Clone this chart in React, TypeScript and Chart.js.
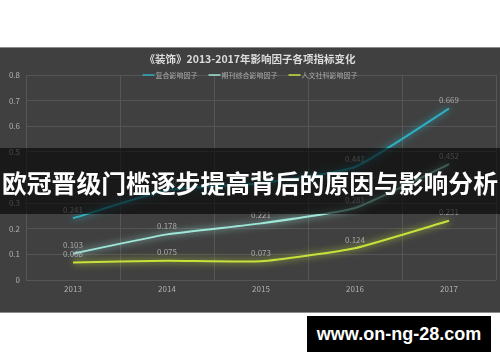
import React, { useEffect, useRef } from "react";
import { Chart, registerables } from "chart.js";

Chart.register(...registerables);

const chartTitle = "《装饰》2013-2017年影响因子各项指标变化";
const bannerText = "欧冠晋级门槛逐步提高背后的原因与影响分析";
const watermarkText = "www.on-ng-28.com";

const years = ["2013", "2014", "2015", "2016", "2017"];
const compositeIF = [0.241, 0.35, 0.378, 0.441, 0.669];
const journalIF = [0.103, 0.178, 0.221, 0.281, 0.452];
const humanitiesIF = [0.068, 0.075, 0.073, 0.124, 0.231];
const seriesNames = ["复合影响因子", "期刊综合影响因子", "人文社科影响因子"];
const seriesColors = ["#2eaec0", "#9fe6da", "#c8e03c"];
const yMin = 0;
const yMax = 0.8;
const yStep = 0.1;

const FONT = "'Noto Sans CJK SC', 'DejaVu Sans', sans-serif";

const glowPlugin = {
  id: "glow",
  beforeDatasetDraw(chart: any, args: any) {
    const ctx = chart.ctx;
    ctx.save();
    const ds = chart.data.datasets[args.index];
    ctx.shadowColor = ds.borderColor;
    ctx.shadowBlur = 7;
  },
  afterDatasetDraw(chart: any) {
    chart.ctx.restore();
  },
};

const labelsPlugin = {
  id: "valueLabels",
  afterDatasetsDraw(chart: any) {
    const ctx = chart.ctx;
    ctx.save();
    ctx.font = `8px ${FONT}`;
    ctx.fillStyle = "#a9a9a9";
    ctx.textAlign = "center";
    ctx.textBaseline = "middle";
    chart.data.datasets.forEach((ds: any, i: number) => {
      const meta = chart.getDatasetMeta(i);
      meta.data.forEach((pt: any, j: number) => {
        const v = ds.data[j] as number;
        ctx.fillText(v.toFixed(3), pt.x, pt.y - 8.5);
      });
    });
    ctx.restore();
  },
};

const headerPlugin = {
  id: "header",
  afterDraw(chart: any) {
    const ctx = chart.ctx;
    ctx.save();
    ctx.font = `bold 10.5px ${FONT}`;
    ctx.fillStyle = "#dcdcdc";
    ctx.textAlign = "center";
    ctx.textBaseline = "middle";
    ctx.fillText(chartTitle, chart.width / 2, 12);
    ctx.font = `7px ${FONT}`;
    const marker = 12;
    const gap = 1;
    const itemGap = 11;
    const items = chart.data.datasets.map((d: any) => ({
      label: d.label,
      color: d.borderColor,
      w: marker + gap + ctx.measureText(d.label).width,
    }));
    const total =
      items.reduce((s: number, it: any) => s + it.w, 0) + itemGap * (items.length - 1);
    let x = (chart.width - total) / 2;
    const y = 28;
    ctx.textAlign = "left";
    items.forEach((it: any) => {
      ctx.strokeStyle = it.color;
      ctx.lineWidth = 1.5;
      ctx.beginPath();
      ctx.moveTo(x, y);
      ctx.lineTo(x + marker, y);
      ctx.stroke();
      ctx.fillStyle = "#a9a9a9";
      ctx.fillText(it.label, x + marker + gap, y);
      x += it.w + itemGap;
    });
    ctx.restore();
  },
};

function ChartCanvas() {
  const ref = useRef<HTMLCanvasElement | null>(null);
  useEffect(() => {
    if (!ref.current) return;
    const series = [compositeIF, journalIF, humanitiesIF];
    const chart = new Chart(ref.current, {
      type: "line",
      data: {
        labels: years,
        datasets: series.map((data, i) => ({
          label: seriesNames[i],
          data,
          borderColor: seriesColors[i],
          backgroundColor: seriesColors[i],
          borderWidth: 2,
          pointRadius: 0,
          pointHoverRadius: 0,
          tension: 0.15,
          fill: false,
        })),
      },
      options: {
        responsive: false,
        animation: false,
        layout: { padding: { top: 28, right: 4, bottom: 0, left: 0 } },
        plugins: {
          legend: { display: false },
          title: { display: false },
          tooltip: { enabled: false },
        },
        scales: {
          x: {
            offset: true,
            grid: { offset: true, color: "#555555", drawTicks: false },
            border: { display: false },
            ticks: { color: "#b0b0b0", font: { size: 8, family: FONT }, padding: 4 },
            afterFit(scale: any) {
              scale.height = 33;
            },
          },
          y: {
            min: yMin,
            max: yMax,
            grid: { color: "#555555", drawTicks: false },
            border: { display: false },
            ticks: {
              stepSize: yStep,
              color: "#b0b0b0",
              font: { size: 8, family: FONT },
              padding: 6,
            },
            afterFit(scale: any) {
              scale.width = 26;
            },
          },
        },
      },
      plugins: [glowPlugin, labelsPlugin, headerPlugin],
    });
    return () => chart.destroy();
  }, []);
  return (
    <canvas
      ref={ref}
      width={500}
      height={266}
      style={{ position: "absolute", left: 0, top: 47, width: 500, height: 266 }}
    />
  );
}

export default function App() {
  return (
    <div
      style={{
        position: "absolute",
        left: 0,
        top: 0,
        width: 500,
        height: 362,
        background: "#ffffff",
        overflow: "hidden",
      }}
    >
      <div
        style={{
          position: "absolute",
          left: 0,
          top: 47,
          width: 500,
          height: 266,
          boxSizing: "border-box",
          background: "#404040",
          borderTop: "1px solid #8c8c8c",
          borderBottom: "1px solid #8c8c8c",
        }}
      />
      <ChartCanvas />
      <div
        style={{
          position: "absolute",
          left: 0,
          top: 148,
          width: 500,
          height: 66,
          background: "rgba(0,0,0,0.6)",
          color: "#ffffff",
          fontFamily: FONT,
          fontWeight: 700,
          fontSize: 24.8,
          lineHeight: "66px",
          textAlign: "center",
          whiteSpace: "nowrap",
        }}
      >
        <span style={{ position: "relative", top: 1 }}>{bannerText}</span>
      </div>
      <div
        style={{
          position: "absolute",
          left: 307,
          top: 316,
          width: 184,
          height: 36,
          background: "#000000",
          color: "#ffffff",
          fontFamily: "'Liberation Sans', Arial, sans-serif",
          fontWeight: 700,
          fontSize: 18,
          lineHeight: "36px",
          textAlign: "center",
          whiteSpace: "nowrap",
        }}
      >
        {watermarkText}
      </div>
    </div>
  );
}
